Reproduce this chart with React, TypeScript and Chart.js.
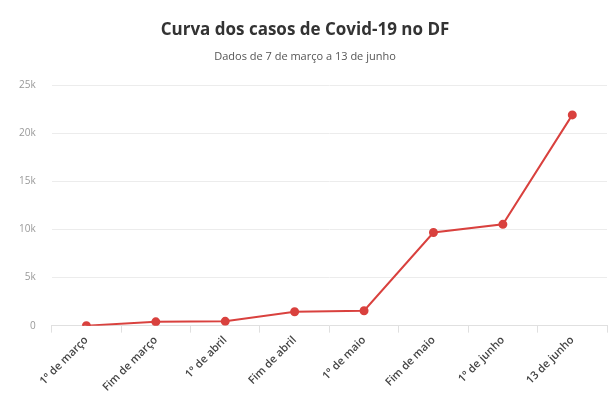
import React, { useEffect, useRef } from "react";
import { Chart, registerables } from "chart.js";

Chart.register(...registerables);

const categories = [
  "1º de março",
  "Fim de março",
  "1º de abril",
  "Fim de abril",
  "1º de maio",
  "Fim de maio",
  "1º de junho",
  "13 de junho",
];
const cases = [0, 400, 450, 1450, 1550, 9700, 10550, 21950];
const yTicks = [0, 5000, 10000, 15000, 20000, 25000];
const yTickLabels = ["0", "5k", "10k", "15k", "20k", "25k"];

export default function App() {
  const ref = useRef<HTMLCanvasElement>(null);
  useEffect(() => {
    document.body.style.margin = "0";
    const ctx = ref.current!;
    const chart = new Chart(ctx, {
      type: "line",
      data: {
        labels: categories,
        datasets: [
          {
            data: cases,
            borderColor: "#d9413e",
            backgroundColor: "#d9413e",
            borderWidth: 2,
            pointRadius: 3.5,
            pointHoverRadius: 3.5,
            tension: 0,
          },
        ],
      },
      options: {
        responsive: false,
        animation: false,
        layout: { padding: { top: 10, right: 9, left: 3, bottom: 0 } },
        plugins: {
          legend: { display: false },
          tooltip: { enabled: false },
          title: {
            display: true,
            text: "Curva dos casos de Covid-19 no DF",
            color: "#333333",
            font: { family: "Open Sans", size: 17, weight: "bold" },
            padding: { top: 10, bottom: 10 },
          },
          subtitle: {
            display: true,
            text: "Dados de 7 de março a 13 de junho",
            color: "#555555",
            font: { family: "Open Sans", size: 11 },
            padding: { top: 0, bottom: 22 },
          },
        },
        scales: {
          x: {
            offset: true,
            grid: {
              offset: true,
              drawOnChartArea: false,
              drawTicks: true,
              tickLength: 7,
              color: "#e0e0e0",
            },
            border: { color: "#e0e0e0" },
            ticks: {
              maxRotation: 45,
              minRotation: 45,
              color: "#444444",
              font: { family: "Open Sans", size: 11, weight: "600" },
              padding: 1,
            },
          },
          y: {
            min: 0,
            max: 25000,
            afterBuildTicks: (axis: any) => {
              axis.ticks = yTicks.map((v) => ({ value: v }));
            },
            grid: { color: "#ececec", drawTicks: false },
            border: { display: false },
            ticks: {
              color: "#999999",
              font: { family: "Open Sans", size: 10 },
              padding: 16,
              callback: (v: any) => {
                const i = yTicks.indexOf(Number(v));
                return i >= 0 ? yTickLabels[i] : "";
              },
            },
          },
        },
      },
    });
    return () => chart.destroy();
  }, []);
  return <canvas ref={ref} width={616} height={395} />;
}
